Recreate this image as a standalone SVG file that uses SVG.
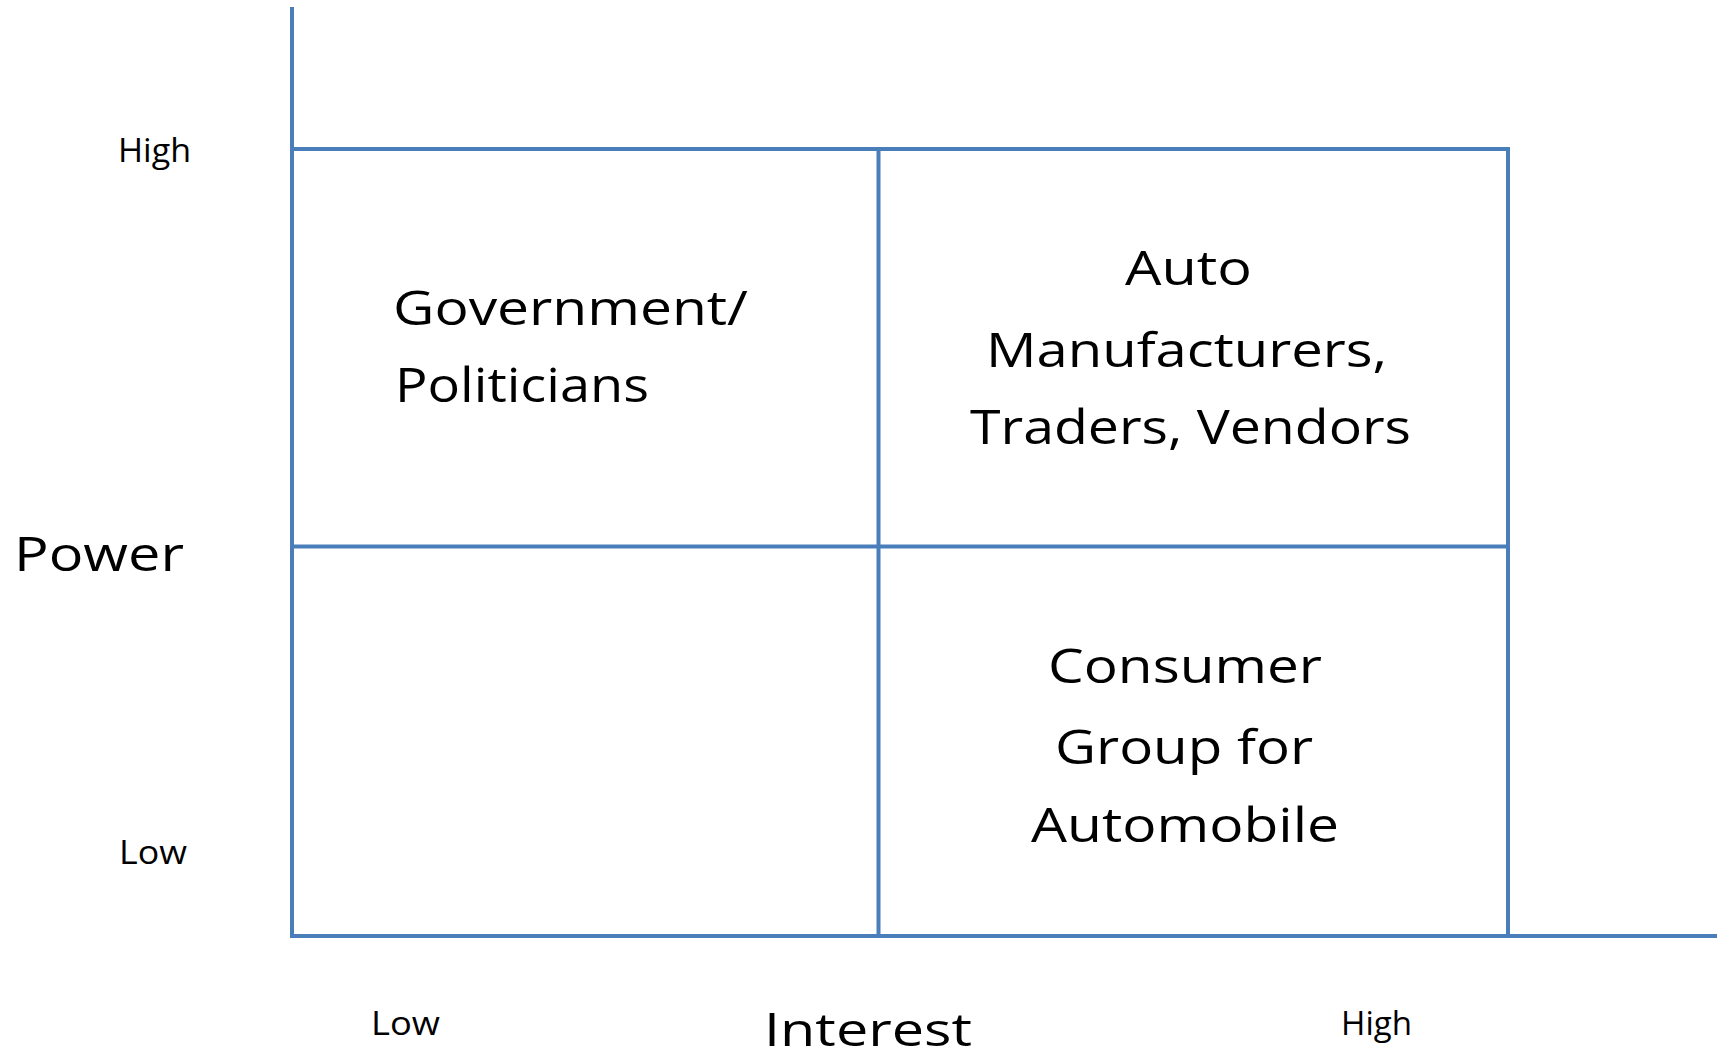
<svg xmlns="http://www.w3.org/2000/svg" width="1723" height="1053" viewBox="0 0 1723 1053">
  <style>
    .grid line { stroke: #4a7ebb; stroke-width: 4; stroke-linecap: butt; fill: none; }
    text { font-family: "Open Sans", "Liberation Sans", sans-serif; fill: #000; }
    .big { font-size: 48px; }
    .axis { font-size: 46px; }
    .small { font-size: 32px; }
  </style>
  <rect width="1723" height="1053" fill="#ffffff"/>

  <!-- axes and quadrant grid -->
  <g id="connectors" class="grid">
    <line x1="292" y1="7" x2="292" y2="938"/>
    <line x1="290" y1="149" x2="1510" y2="149"/>
    <line x1="292" y1="546.5" x2="1508" y2="546.5"/>
    <line x1="878.5" y1="149" x2="878.5" y2="936"/>
    <line x1="1508" y1="147" x2="1508" y2="936"/>
    <line x1="290" y1="936" x2="1717" y2="936"/>
  </g>

  <!-- quadrant: high power, low interest -->
  <g id="q-government">
    <text class="big" x="393" y="324.5" textLength="355" lengthAdjust="spacingAndGlyphs">Government/</text>
    <text class="big" x="395" y="402" textLength="254" lengthAdjust="spacingAndGlyphs">Politicians</text>
  </g>

  <!-- quadrant: high power, high interest -->
  <g id="q-manufacturers">
    <text class="big" x="1125" y="285.3" textLength="127" lengthAdjust="spacingAndGlyphs">Auto</text>
    <text class="big" x="986" y="367" textLength="401" lengthAdjust="spacingAndGlyphs">Manufacturers,</text>
    <text class="big" x="970" y="444" textLength="441" lengthAdjust="spacingAndGlyphs">Traders, Vendors</text>
  </g>

  <!-- quadrant: low power, low interest (empty) -->
  <g id="q-empty"></g>

  <!-- quadrant: low power, high interest -->
  <g id="q-consumer">
    <text class="big" x="1048" y="683.3" textLength="274" lengthAdjust="spacingAndGlyphs">Consumer</text>
    <text class="big" x="1055" y="764.3" textLength="258" lengthAdjust="spacingAndGlyphs">Group for</text>
    <text class="big" x="1031" y="841.7" textLength="308" lengthAdjust="spacingAndGlyphs">Automobile</text>
  </g>

  <!-- vertical axis labels -->
  <g id="axis-power">
    <text class="big" x="14" y="571.4" textLength="170" lengthAdjust="spacingAndGlyphs">Power</text>
    <text class="small" x="118" y="162" textLength="73" lengthAdjust="spacingAndGlyphs">High</text>
    <text class="small" x="119" y="864.3" textLength="68" lengthAdjust="spacingAndGlyphs">Low</text>
  </g>

  <!-- horizontal axis labels -->
  <g id="axis-interest">
    <text class="axis" x="764" y="1046" textLength="208" lengthAdjust="spacingAndGlyphs">Interest</text>
    <text class="small" x="371" y="1035" textLength="69" lengthAdjust="spacingAndGlyphs">Low</text>
    <text class="small" x="1341" y="1035" textLength="71" lengthAdjust="spacingAndGlyphs">High</text>
  </g>
</svg>
